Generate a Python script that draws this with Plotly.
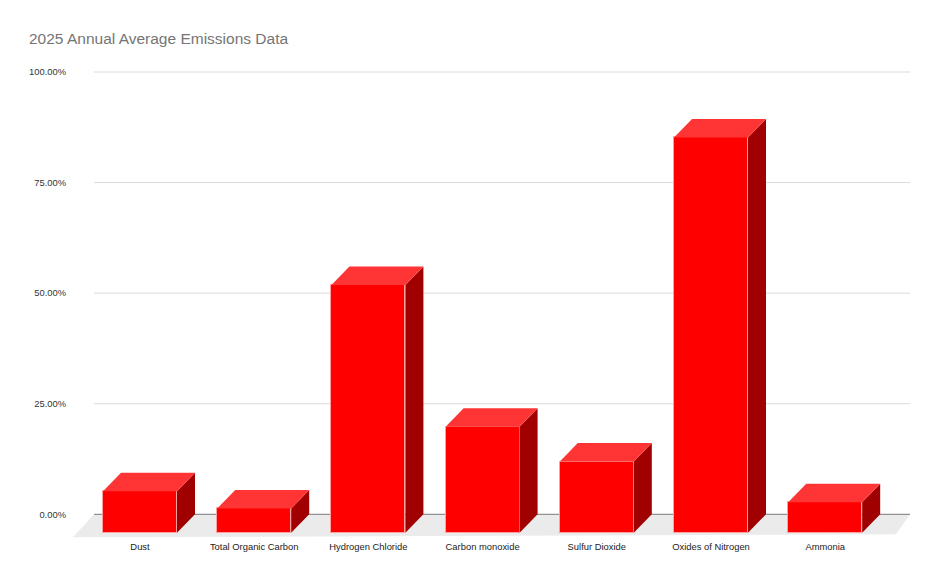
import plotly.graph_objects as go

# ---- data ----
categories = ["Dust", "Total Organic Carbon", "Hydrogen Chloride", "Carbon monoxide",
              "Sulfur Dioxide", "Oxides of Nitrogen", "Ammonia"]
values = [9.4, 5.5, 56.0, 24.0, 16.1, 89.4, 6.9]
y_ticks = [0, 25, 50, 75, 100]
y_tick_labels = ["0.00%", "25.00%", "50.00%", "75.00%", "100.00%"]
title_text = "2025 Annual Average Emissions Data"

# ---- layout / style constants ----
W, H = 940, 582
PX_X = 114.2          # px per category
PX_Y = 4.423          # px per percent
DEPTH_X = 18 / PX_X   # 3D depth offset in x units
DEPTH_Y = 18.5 / PX_Y # 3D depth offset in y units
BAR_W = 74 / PX_X
PLOT_L, PLOT_R, PLOT_T, PLOT_B = 70, 912, 60, 540
BACK_CENTER0_PX = 158
ZERO_PX = 514.3
BACK_L = (94 - BACK_CENTER0_PX) / PX_X
BACK_R = (910 - BACK_CENTER0_PX) / PX_X

x_range = [(PLOT_L - BACK_CENTER0_PX) / PX_X, (PLOT_R - BACK_CENTER0_PX) / PX_X]
y_range = [(ZERO_PX - PLOT_B) / PX_Y, (ZERO_PX - PLOT_T) / PX_Y]

FRONT = "#ff0000"
TOP = "#ff3535"
SIDE = "#a00000"

idx = list(range(len(categories)))
front_x = [i - DEPTH_X for i in idx]

# top and side faces derived from the data values
top_x, top_y, side_x, side_y = [], [], [], []
for fx, v in zip(front_x, values):
    xl, xr = fx - BAR_W / 2, fx + BAR_W / 2
    top_x += [xl, xr, xr + DEPTH_X, xl + DEPTH_X, xl, None]
    top_y += [v - DEPTH_Y, v - DEPTH_Y, v, v, v - DEPTH_Y, None]
    side_x += [xr, xr + DEPTH_X, xr + DEPTH_X, xr, xr, None]
    side_y += [-DEPTH_Y, 0, v, v - DEPTH_Y, -DEPTH_Y, None]

fig = go.Figure()
fig.add_trace(go.Scatter(x=side_x, y=side_y, mode="lines", fill="toself",
                         fillcolor=SIDE, line=dict(width=0, color=SIDE),
                         hoverinfo="skip", showlegend=False))
fig.add_trace(go.Scatter(x=top_x, y=top_y, mode="lines", fill="toself",
                         fillcolor=TOP, line=dict(width=0, color=TOP),
                         hoverinfo="skip", showlegend=False))
fig.add_trace(go.Bar(x=front_x, y=values, base=-DEPTH_Y, width=BAR_W,
                     marker=dict(color=FRONT, line=dict(color="#ffa0a0", width=1)),
                     showlegend=False))

shapes = []
# floor
fdx1, fdy1 = 21 / PX_X, 23 / PX_Y
fdx2, fdy2 = 14 / PX_X, 20 / PX_Y
shapes.append(dict(type="path", xref="x", yref="y", layer="below",
                   path=f"M {BACK_L},0 L {BACK_R},0 L {BACK_R - fdx2},{-fdy2} L {BACK_L - fdx1},{-fdy1} Z",
                   fillcolor="#ebebeb", line=dict(width=0)))
for t in y_ticks:
    shapes.append(dict(type="line", xref="x", yref="y", layer="below",
                       x0=BACK_L, x1=BACK_R, y0=t, y1=t,
                       line=dict(color="#7a7a7a" if t == 0 else "#dadada", width=1)))

fig.update_layout(
    width=W, height=H,
    margin=dict(l=PLOT_L, r=W - PLOT_R, t=PLOT_T, b=H - PLOT_B),
    paper_bgcolor="white", plot_bgcolor="white",
    font=dict(family="Liberation Sans, Arial, sans-serif", color="#222222"),
    title=dict(text=title_text, x=29 / W, xanchor="left", xref="container",
               y=1 - 39 / H, yanchor="middle", yref="container",
               font=dict(size=15.5, color="#757575")),
    shapes=shapes,
    bargap=0,
)
fig.update_xaxes(range=x_range, tickvals=front_x, ticktext=categories,
                 showgrid=False, zeroline=False, showline=False, ticks="",
                 tickfont=dict(size=9.4, color="#222222"))
fig.update_yaxes(range=y_range, tickvals=y_ticks, ticktext=y_tick_labels,
                 showgrid=False, zeroline=False, showline=False, ticks="",
                 ticklabelstandoff=3,
                 tickfont=dict(size=9.4, color="#333333"))

fig.write_html("out.html")
